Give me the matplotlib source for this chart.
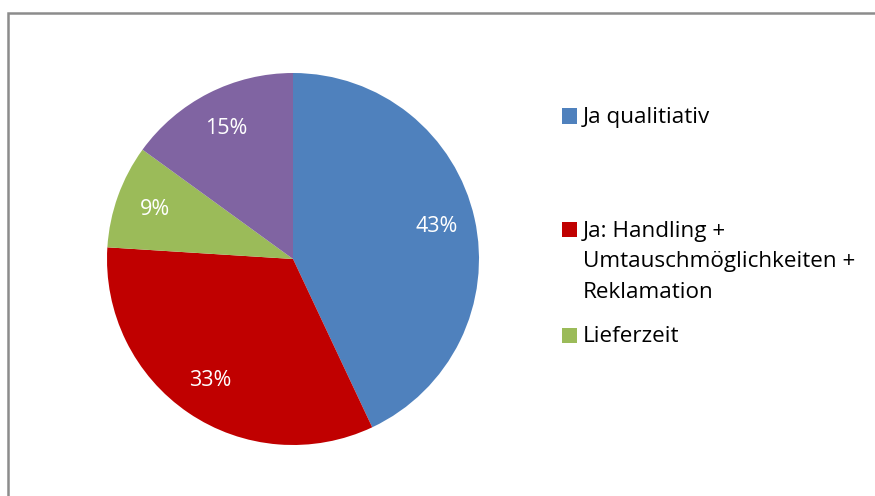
import matplotlib
matplotlib.use("Agg")
import matplotlib.pyplot as plt
from matplotlib.patches import Rectangle

categories = ["Ja qualitiativ", "Ja: Handling +\nUmtauschmöglichkeiten +\nReklamation", "Lieferzeit", "Sonstiges"]
values = [43, 33, 9, 15]
colors = ["#4F81BD", "#C00000", "#9BBB59", "#8064A2"]
legend_shown = 3

W, H = 875, 496
plt.rcParams['font.family'] = ['Open Sans', 'DejaVu Sans']
fig = plt.figure(figsize=(W / 100, H / 100), dpi=100)

# chart frame (cropped at right and bottom)
fig.patches.append(Rectangle((8 / W, -0.1), 1.2, (H - 13) / H + 0.1, transform=fig.transFigure,
                             fill=False, edgecolor="#8C8C8C", linewidth=1.8))

cx, cy, r = 293, 259, 186
ax = fig.add_axes([(cx - r) / W, (H - cy - r) / H, 2 * r / W, 2 * r / H])
wedges, texts, autotexts = ax.pie(values, colors=colors, startangle=90, counterclock=False,
                                  autopct='%.0f%%', pctdistance=0.79, radius=1,
                                  textprops=dict(color="white", fontsize=15.5))
ax.set_xlim(-1, 1)
ax.set_ylim(-1, 1)
ax.set_aspect('equal')
ax.axis('off')

# legend
legend_y = [116, 229, 335]
for i in range(legend_shown):
    y = legend_y[i]
    fig.patches.append(Rectangle((562 / W, (H - y - 7.5) / H), 15 / W, 15 / H,
                                 transform=fig.transFigure, facecolor=colors[i], edgecolor="none"))
    lines = categories[i].split('\n')
    for j, line in enumerate(lines):
        fig.text(583 / W, (H - (y + 2 + j * 31)) / H, line, ha='left', va='center',
                 fontsize=16.2, color="black")

fig.savefig("out.png", dpi=100)
